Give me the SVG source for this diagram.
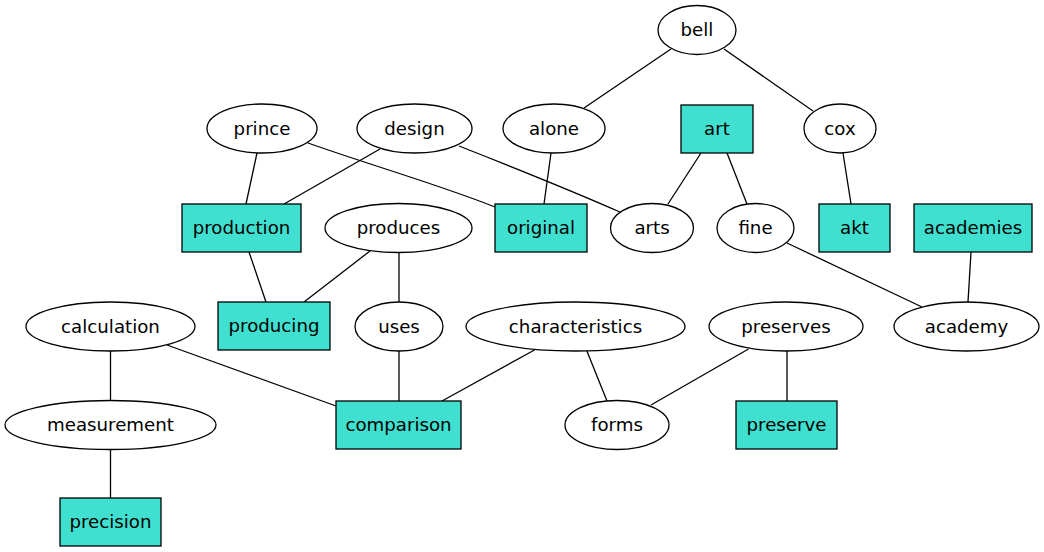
<svg xmlns="http://www.w3.org/2000/svg" width="1044" height="552" viewBox="0 0 1044 552">
<style>
.e{fill:#ffffff;stroke:#000;stroke-width:1.3}
.b{fill:#40e0d0;stroke:#000;stroke-width:1.3}
.c{stroke:#000;stroke-width:1.3;fill:none}
text{font-family:"DejaVu Sans",sans-serif;font-size:18.2px;text-anchor:middle;fill:#000}
</style>
<rect width="1044" height="552" fill="#fff"/>
<g id="connectors">
<line class="c" x1="671" y1="49" x2="584" y2="108"/>
<line class="c" x1="724" y1="49" x2="813" y2="111"/>
<line class="c" x1="257" y1="153" x2="246" y2="204"/>
<path class="c" d="M308,143 C370,165 440,185 495,207"/>
<line class="c" x1="380" y1="149" x2="284" y2="204"/>
<path class="c" d="M459,146 C515,168 570,190 620,212"/>
<line class="c" x1="551" y1="153" x2="544" y2="204"/>
<line class="c" x1="701" y1="153" x2="668" y2="204"/>
<line class="c" x1="727" y1="153" x2="747" y2="204"/>
<line class="c" x1="843" y1="153" x2="851" y2="204"/>
<line class="c" x1="787" y1="243" x2="922" y2="307"/>
<line class="c" x1="971" y1="252" x2="968" y2="302"/>
<line class="c" x1="249" y1="252" x2="266" y2="302"/>
<line class="c" x1="370" y1="251" x2="304" y2="302"/>
<line class="c" x1="399" y1="252" x2="399" y2="302"/>
<line class="c" x1="110.5" y1="351" x2="110.5" y2="400"/>
<line class="c" x1="167" y1="345" x2="336" y2="406"/>
<line class="c" x1="399" y1="351" x2="399" y2="401"/>
<line class="c" x1="534.5" y1="350" x2="442" y2="401"/>
<line class="c" x1="586.5" y1="350" x2="607" y2="401"/>
<line class="c" x1="748.5" y1="349" x2="651" y2="405"/>
<line class="c" x1="787" y1="351" x2="787" y2="401"/>
<line class="c" x1="110.5" y1="449" x2="110.5" y2="498"/>
</g>
<g id="bell"><ellipse class="e" cx="697" cy="30" rx="39" ry="24.5"/><text x="697" y="36">bell</text></g>
<g id="prince"><ellipse class="e" cx="262" cy="128.5" rx="55" ry="24.5"/><text x="262" y="134.5">prince</text></g>
<g id="design"><ellipse class="e" cx="414.5" cy="128.5" rx="57.5" ry="24.5"/><text x="414.5" y="134.5">design</text></g>
<g id="alone"><ellipse class="e" cx="554" cy="128.5" rx="51" ry="24.5"/><text x="554" y="134.5">alone</text></g>
<g id="cox"><ellipse class="e" cx="840" cy="128.5" rx="36" ry="24.5"/><text x="840" y="134.5">cox</text></g>
<g id="art"><rect class="b" x="681" y="105" width="72" height="48"/><text x="717" y="135">art</text></g>
<g id="production"><rect class="b" x="182" y="204" width="119" height="48"/><text x="241.5" y="234">production</text></g>
<g id="original"><rect class="b" x="495" y="204" width="92" height="48"/><text x="541" y="234">original</text></g>
<g id="produces"><ellipse class="e" cx="398.5" cy="228" rx="73.5" ry="24.5"/><text x="398.5" y="234">produces</text></g>
<g id="arts"><ellipse class="e" cx="652" cy="228" rx="41.5" ry="24.5"/><text x="652" y="234">arts</text></g>
<g id="fine"><ellipse class="e" cx="755.5" cy="228" rx="38.5" ry="24.5"/><text x="755.5" y="234">fine</text></g>
<g id="akt"><rect class="b" x="819" y="204" width="71" height="48"/><text x="854.5" y="234">akt</text></g>
<g id="academies"><rect class="b" x="914" y="204" width="118" height="48"/><text x="973" y="234">academies</text></g>
<g id="calculation"><ellipse class="e" cx="110.5" cy="326.5" rx="84.5" ry="24.5"/><text x="110.5" y="332.5">calculation</text></g>
<g id="producing"><rect class="b" x="218" y="302" width="112" height="48"/><text x="274" y="332">producing</text></g>
<g id="uses"><ellipse class="e" cx="399" cy="326.5" rx="44" ry="24.5"/><text x="399" y="332.5">uses</text></g>
<g id="characteristics"><ellipse class="e" cx="575.5" cy="326.5" rx="109.5" ry="24.5"/><text x="575.5" y="332.5">characteristics</text></g>
<g id="preserves"><ellipse class="e" cx="786" cy="326.5" rx="77" ry="24.5"/><text x="786" y="332.5">preserves</text></g>
<g id="academy"><ellipse class="e" cx="966.5" cy="326.5" rx="72.5" ry="24.5"/><text x="966.5" y="332.5">academy</text></g>
<g id="measurement"><ellipse class="e" cx="110.5" cy="425" rx="105.5" ry="24.5"/><text x="110.5" y="431">measurement</text></g>
<g id="comparison"><rect class="b" x="336" y="401" width="125" height="48"/><text x="398.5" y="431">comparison</text></g>
<g id="forms"><ellipse class="e" cx="617" cy="425" rx="52" ry="24.5"/><text x="617" y="431">forms</text></g>
<g id="preserve"><rect class="b" x="736" y="401" width="101" height="48"/><text x="786.5" y="431">preserve</text></g>
<g id="precision"><rect class="b" x="60" y="498" width="101" height="48"/><text x="110.5" y="528">precision</text></g>
</svg>
